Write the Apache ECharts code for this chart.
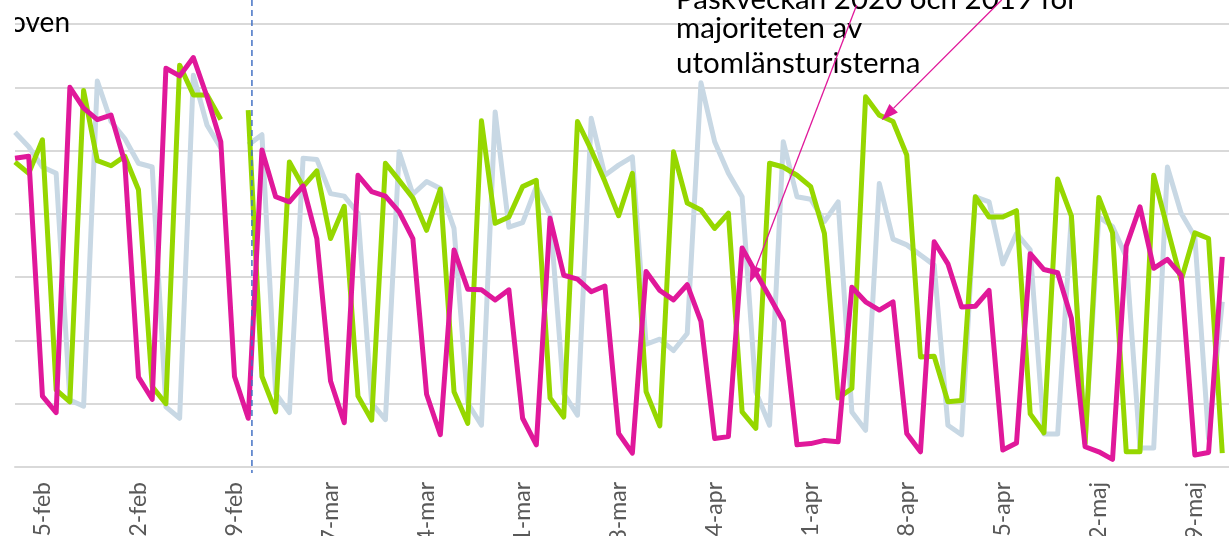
<!DOCTYPE html>
<html>
<head>
<meta charset="utf-8">
<script src="https://cdn.jsdelivr.net/npm/echarts@6/dist/echarts.min.js"></script>
<style>
  html, body { margin: 0; padding: 0; background: #fff; }
  #chart { width: 1229px; height: 536px; }
</style>
</head>
<body>
<div id="chart"></div>
<script>
// dagar 13 feb - 12 maj (skuren bild, 2020 års kalender)
const dagar = [
  '13-feb', '14-feb', '15-feb', '16-feb', '17-feb', '18-feb', '19-feb', '20-feb', '21-feb', '22-feb',
  '23-feb', '24-feb', '25-feb', '26-feb', '27-feb', '28-feb', '29-feb',
  '1-mar', '2-mar', '3-mar', '4-mar', '5-mar', '6-mar', '7-mar', '8-mar', '9-mar', '10-mar',
  '11-mar', '12-mar', '13-mar', '14-mar', '15-mar', '16-mar', '17-mar', '18-mar', '19-mar', '20-mar',
  '21-mar', '22-mar', '23-mar', '24-mar', '25-mar', '26-mar', '27-mar', '28-mar', '29-mar', '30-mar', '31-mar',
  '1-apr', '2-apr', '3-apr', '4-apr', '5-apr', '6-apr', '7-apr', '8-apr', '9-apr', '10-apr',
  '11-apr', '12-apr', '13-apr', '14-apr', '15-apr', '16-apr', '17-apr', '18-apr', '19-apr', '20-apr',
  '21-apr', '22-apr', '23-apr', '24-apr', '25-apr', '26-apr', '27-apr', '28-apr', '29-apr', '30-apr',
  '1-maj', '2-maj', '3-maj', '4-maj', '5-maj', '6-maj', '7-maj', '8-maj', '9-maj', '10-maj',
  '11-maj', '12-maj'
];

// grå (2018)
const ar2018 = [
  5.29, 5.06, 4.74, 4.64, 1.06, 0.96, 6.10, 5.46, 5.19, 4.80,
  4.74, 0.95, 0.77, 6.19, 5.40, 5.04, null, 5.09, 5.25, 1.16,
  0.86, 4.88, 4.86, 4.32, 4.28, 4.01, 1.01, 0.75, 4.98, 4.31,
  4.51, 4.40, 3.77, 1.01, 0.66, 5.61, 3.79, 3.86, 4.43, 3.98,
  1.16, 0.82, 5.51, 4.61, 4.77, 4.90, 1.94, 2.02, 1.84, 2.11,
  6.07, 5.14, 4.64, 4.27, 1.19, 0.66, 5.14, 4.27, 4.23, 3.88,
  4.19, 0.87, 0.58, 4.48, 3.60, 3.51, 3.35, 3.19, 0.66, 0.51,
  4.27, 4.19, 3.21, 3.69, 3.43, 0.52, 0.52, 3.97, 0.40, 3.95,
  3.80, 3.32, 0.30, 0.30, 4.74, 4.01, 3.64, 0.45, 2.61
];

// grön (2019)
const ar2019 = [
  4.82, 4.64, 5.17, 1.22, 1.03, 5.95, 4.84, 4.76, 4.91, 4.38,
  1.27, 1.00, 6.35, 5.88, 5.88, 5.49, null, 5.64, 1.43, 0.87,
  4.82, 4.43, 4.68, 3.61, 4.12, 1.12, 0.74, 4.80, 4.53, 4.25,
  3.74, 4.39, 1.19, 0.69, 5.47, 3.85, 3.95, 4.43, 4.53, 1.09,
  0.79, 5.46, 5.01, 4.51, 3.97, 4.64, 1.19, 0.65, 4.98, 4.17,
  4.06, 3.77, 4.01, 0.87, 0.61, 4.80, 4.74, 4.61, 4.43, 3.69,
  1.09, 1.24, 5.85, 5.56, 5.46, 4.93, 1.74, 1.75, 1.03, 1.05,
  4.27, 3.95, 3.95, 4.05, 0.84, 0.54, 4.55, 3.97, 0.37, 4.26,
  3.70, 0.24, 0.24, 4.61, 3.77, 2.95, 3.70, 3.61, 0.22
];

// magenta (2020)
const ar2020 = [
  4.88, 4.91, 1.12, 0.86, 6.00, 5.67, 5.49, 5.56, 4.82, 1.42,
  1.07, 6.30, 6.18, 6.47, 5.85, 5.14, 1.43, 0.77, 5.01, 4.27,
  4.19, 4.44, 3.61, 1.36, 0.70, 4.61, 4.35, 4.28, 4.03, 3.61,
  1.15, 0.51, 3.43, 2.81, 2.80, 2.64, 2.80, 0.77, 0.35, 3.93,
  3.03, 2.97, 2.77, 2.86, 0.53, 0.22, 3.09, 2.79, 2.64, 2.88,
  2.30, 0.45, 0.48, 3.46, 3.07, 2.69, 2.30, 0.35, 0.37, 0.42,
  0.40, 2.84, 2.61, 2.48, 2.61, 0.53, 0.24, 3.56, 3.21, 2.53,
  2.54, 2.79, 0.27, 0.38, 3.37, 3.12, 3.07, 2.35, 0.32, 0.24,
  0.12, 3.49, 4.11, 3.14, 3.28, 3.03, 0.19, 0.23, 3.32
];

const rosa = '#E0189A';
const gron = '#96D700';
const gra = '#C8D8E4';

const chartDom = document.getElementById('chart');
const chart = echarts.init(chartDom, null, { renderer: 'canvas' });

const option = {
  animation: false,
  grid: { left: 15, right: -7, top: 24, bottom: 69, outerBoundsMode: 'none', containLabel: false },
  xAxis: {
    type: 'category',
    data: dagar,
    boundaryGap: false,
    axisLine: { lineStyle: { color: '#D9D9D9', width: 2 } },
    axisTick: { show: false },
    axisLabel: {
      rotate: 90,
      interval: function (i) { return (i - 2) % 7 === 0; },
      color: '#595959',
      fontFamily: 'Lato',
      fontSize: 23,
      margin: 15
    },
    splitLine: { show: false }
  },
  yAxis: {
    type: 'value',
    min: 0,
    max: 7,
    interval: 1,
    axisLine: { show: false },
    axisTick: { show: false },
    axisLabel: { show: false },
    splitLine: { lineStyle: { color: '#D9D9D9', width: 2 } }
  },
  series: [
    { name: '2018', type: 'line', data: ar2018, symbol: 'none', connectNulls: false,
      lineStyle: { color: gra, width: 5, join: 'round' } },
    { name: '2019', type: 'line', data: ar2019, symbol: 'none', connectNulls: false,
      lineStyle: { color: gron, width: 5, join: 'round' } },
    { name: '2020', type: 'line', data: ar2020, symbol: 'none',
      lineStyle: { color: rosa, width: 5, join: 'round' } }
  ]
};

chart.setOption(option);

// pixelposition för ett (ev. bråktals-) index och ett värde
function punkt(i, v) {
  const f = Math.floor(i);
  const a = chart.convertToPixel({ gridIndex: 0 }, [f, v]);
  const b = chart.convertToPixel({ gridIndex: 0 }, [f + 1, v]);
  return [a[0] + (b[0] - a[0]) * (i - f), a[1]];
}

function pil(svans, spets) {
  const dx = spets[0] - svans[0];
  const dy = spets[1] - svans[1];
  const len = Math.sqrt(dx * dx + dy * dy);
  const ux = dx / len, uy = dy / len;
  const hl = 17, hw = 6;
  const bx = spets[0] - ux * hl, by = spets[1] - uy * hl;
  return [
    { type: 'line', shape: { x1: svans[0], y1: svans[1], x2: bx, y2: by },
      style: { stroke: rosa, lineWidth: 1.3 }, z: 100 },
    { type: 'polygon', shape: { points: [spets, [bx - uy * hw, by + ux * hw], [bx + uy * hw, by - ux * hw]] },
      style: { fill: rosa }, z: 100 }
  ];
}

const nollY = punkt(0, 0)[1];
const streckX = punkt(17.27, 0)[0];
const font = '29.5px Lato';

const grafik = [
  { type: 'line', shape: { x1: streckX, y1: 0, x2: streckX, y2: nollY + 6 },
    style: { stroke: '#4472C4', lineWidth: 1.5, lineDash: [6, 4] }, z: 90 },
  { type: 'text', x: 70, y: 23, style: { text: 'Sportloven', font: '28px Lato', fill: '#000', textAlign: 'right', textVerticalAlign: 'middle' }, z: 100 },
  { type: 'rect', shape: { x: 0, y: 0, width: 15, height: 60 }, style: { fill: '#fff' }, z: 101 },
  { type: 'text', x: 676, y: -1, style: { text: 'Påskveckan 2020 och 2019 för', font: font, fill: '#000', textVerticalAlign: 'middle' }, z: 100 },
  { type: 'text', x: 676, y: 28, style: { text: 'majoriteten av', font: font, fill: '#000', textVerticalAlign: 'middle' }, z: 100 },
  { type: 'text', x: 676, y: 63, style: { text: 'utomlänsturisterna', font: font, fill: '#000', textVerticalAlign: 'middle' }, z: 100 }
].concat(
  pil(punkt(61.35, 7.30), punkt(53.57, 2.91)),
  pil(punkt(71.92, 7.38), punkt(63.17, 5.48))
);

chart.setOption({ graphic: grafik });

window.addEventListener('resize', function () {
  chart.resize();
});
</script>
</body>
</html>
